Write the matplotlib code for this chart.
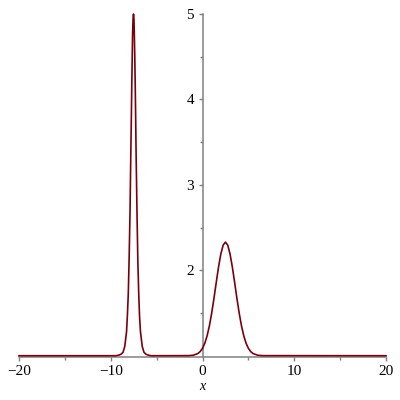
import matplotlib
matplotlib.use("Agg")
import matplotlib.pyplot as plt

# curve: flat at 1, narrow peak near x=-7.5, wide one near x=2.5
x = [-20.0, -9.42, -9.04, -8.85, -8.66, -8.47, -8.28, -8.19, -8.09, -8.00, -7.90,
     -7.81, -7.76, -7.71, -7.66, -7.62, -7.57, -7.52, -7.47, -7.43, -7.38, -7.33,
     -7.28, -7.24, -7.14, -7.05, -6.95, -6.86, -6.76, -6.57, -6.38, -6.19, -6.00,
     -5.62, -1.5, -1.0, -0.5, -0.25, 0.0, 0.25, 0.5, 0.75, 1.0, 1.25, 1.5, 1.75,
     2.0, 2.25, 2.5, 2.75, 3.0, 3.25, 3.5, 3.75, 4.0, 4.25, 4.5, 4.75, 5.0, 5.25,
     5.5, 6.0, 6.5, 20.0]
y = [1.00, 1.00, 1.01, 1.02, 1.04, 1.11, 1.28, 1.46, 1.72, 2.12, 2.68,
     3.39, 3.75, 4.15, 4.50, 4.76, 4.94, 5.00, 4.94, 4.76, 4.50, 4.15,
     3.75, 3.39, 2.68, 2.12, 1.72, 1.46, 1.28, 1.11, 1.04, 1.02, 1.01,
     1.00, 1.001, 1.006, 1.026, 1.049, 1.087, 1.146, 1.232, 1.349, 1.498, 1.672, 1.859, 2.040,
     2.192, 2.294, 2.330, 2.294, 2.192, 2.040, 1.859, 1.672, 1.498, 1.349, 1.232, 1.146, 1.087, 1.049,
     1.026, 1.006, 1.001, 1.00]

xticks = [-20, -10, 0, 10, 20]
xtick_labels = ["\u221220", "\u221210", "0", "10", "20"]
xminor = [-15, -5, 5, 15]
yticks = [2, 3, 4, 5]
yminor = [1.5, 2.5, 3.5, 4.5]

fig = plt.figure(figsize=(4, 4), dpi=100)
ax = fig.add_axes([0.0475, 0.1075, 0.9175, 0.8575])

ax.plot(x, y, color="#78000E", lw=1.2, clip_on=False, zorder=3)

ax.set_xlim(-20, 20)
ax.set_ylim(0.985, 5)

ax.spines["top"].set_visible(False)
ax.spines["right"].set_visible(False)
ax.spines["left"].set_position(("data", 0))
for s in ("left", "bottom"):
    ax.spines[s].set_color("#808080")
    ax.spines[s].set_linewidth(1.1)

ax.set_xticks(xticks)
ax.set_xticklabels(xtick_labels)
ax.set_xticks(xminor, minor=True)
ax.set_yticks(yticks)
ax.set_yticks(yminor, minor=True)

ax.tick_params(which="both", direction="out", color="#808080", width=1.0,
               labelsize=11, pad=3)
ax.tick_params(which="major", length=3)
ax.tick_params(which="minor", length=2.5)
for lab in ax.get_xticklabels() + ax.get_yticklabels():
    lab.set_family("Liberation Serif")

ax.set_xlabel("x", family="Liberation Serif", style="italic", fontsize=10, labelpad=1)

fig.savefig("out.png", dpi=100)
